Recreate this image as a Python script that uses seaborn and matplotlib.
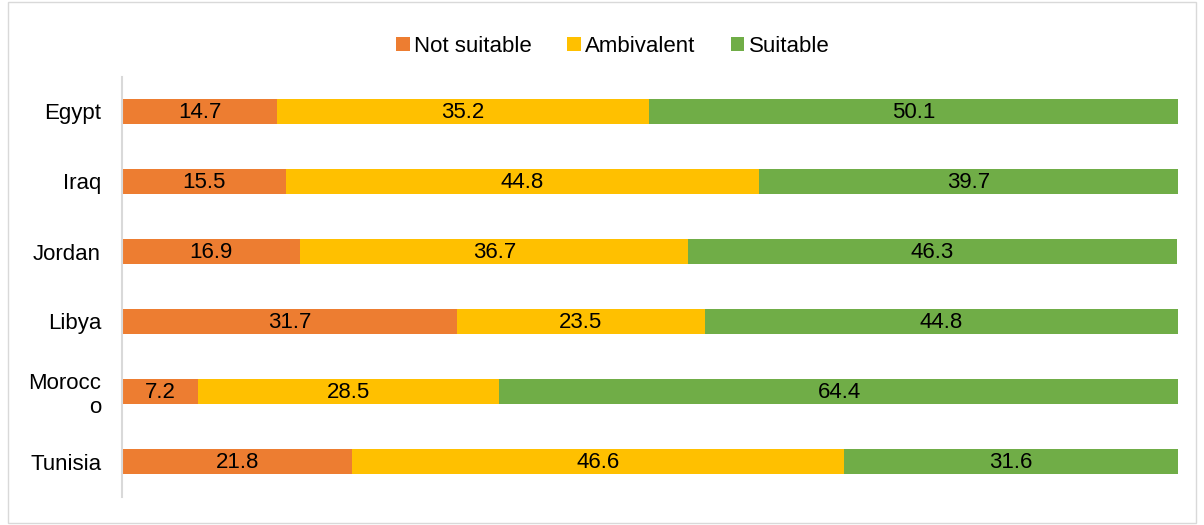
import pandas as pd
import seaborn as sns
import matplotlib.pyplot as plt
from matplotlib.patches import Patch

# --- Data ---
countries = ["Egypt", "Iraq", "Jordan", "Libya", "Morocco", "Tunisia"]
tick_labels = ["Egypt", "Iraq", "Jordan", "Libya", "Morocc\no", "Tunisia"]
not_suitable = [14.7, 15.5, 16.9, 31.7, 7.2, 21.8]
ambivalent = [35.2, 44.8, 36.7, 23.5, 28.5, 46.6]
suitable = [50.1, 39.7, 46.3, 44.8, 64.4, 31.6]

series_names = ["Not suitable", "Ambivalent", "Suitable"]
colors = ["#ED7D31", "#FFC000", "#70AD47"]

df = pd.DataFrame({
    "country": countries,
    "Not suitable": not_suitable,
    "Ambivalent": ambivalent,
    "Suitable": suitable,
})
# cumulative ends for stacking
df["end_ns"] = df["Not suitable"]
df["end_amb"] = df["end_ns"] + df["Ambivalent"]
df["end_suit"] = df["end_amb"] + df["Suitable"]

sns.set_theme(style="white")
plt.rcParams["font.family"] = ["Liberation Sans", "DejaVu Sans"]
plt.rcParams["text.color"] = "black"
plt.rcParams["ytick.color"] = "black"

fig = plt.figure(figsize=(12.04, 5.25), dpi=100)
ax = fig.add_axes([122 / 1204, 28.5 / 525, (1178 - 122) / 1204, 420 / 525])

# draw back to front so the shorter cumulative bars sit on top
for col, color in zip(["end_suit", "end_amb", "end_ns"], colors[::-1]):
    sns.barplot(data=df, x=col, y="country", orient="h", color=color,
                width=0.36, saturation=1, ax=ax, linewidth=0)

# value labels in the middle of each segment
for i, row in df.iterrows():
    starts = [0, row["end_ns"], row["end_amb"]]
    for start, name in zip(starts, series_names):
        val = row[name]
        ax.text(start + val / 2, i + 0.02, f"{val:.1f}", ha="center", va="center",
                fontsize=16, color="black")

ax.set_xlim(0, 100)
ax.set_ylim(5.5, -0.5)
ax.set_xlabel("")
ax.set_ylabel("")
ax.set_xticks([])
ax.set_yticks(range(len(tick_labels)), tick_labels)
ax.tick_params(axis="y", length=0, pad=15, labelsize=16, labelcolor="black")
for lab in ax.get_yticklabels():
    lab.set_multialignment("center")
    lab.set_linespacing(1.25)
for s in ["top", "right", "bottom"]:
    ax.spines[s].set_visible(False)
ax.spines["left"].set_color("#D9D9D9")
ax.spines["left"].set_linewidth(1.5)
ax.spines["left"].set_position(("data", 0))

handles = [Patch(facecolor=c, edgecolor="none", label=n) for n, c in zip(series_names, colors)]
fig.legend(handles=handles, loc="center", bbox_to_anchor=(613 / 1204, 1 - 46 / 525),
           ncol=3, frameon=False, fontsize=16, handlelength=0.6, handleheight=0.6,
           handletextpad=0.2, columnspacing=1.6, labelcolor="black")

# light border around the whole chart area
fig.patches.append(plt.Rectangle((8 / 1204, 0.003), 1 - 16 / 1204, 0.994,
                                 transform=fig.transFigure, fill=False,
                                 edgecolor="#D9D9D9", linewidth=1))

fig.savefig("out.png", dpi=100)
